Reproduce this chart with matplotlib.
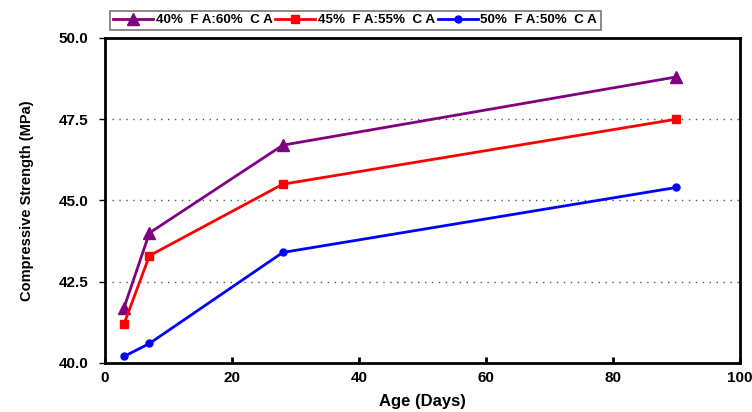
import matplotlib.pyplot as plt
from matplotlib.ticker import MultipleLocator

days = [3, 7, 28, 90]
fa40 = [41.7, 44.0, 46.7, 48.8]
fa45 = [41.2, 43.3, 45.5, 47.5]
fa50 = [40.2, 40.6, 43.4, 45.4]
labels = ['40%  F A:60%  C A', '45%  F A:55%  C A', '50%  F A:50%  C A']

plt.rcParams['font.family'] = ['Liberation Sans', 'DejaVu Sans']

fig = plt.figure(figsize=(7.52, 4.12), dpi=100)
ax = fig.add_axes([0.1396, 0.119, 0.8444, 0.789])

ax.plot(days, fa40, color='#800080', marker='^', ms=8, lw=2, label=labels[0])
ax.plot(days, fa45, color='#ff0000', marker='s', ms=6, lw=2, label=labels[1])
ax.plot(days, fa50, color='#0000ff', marker='o', ms=5, lw=2, label=labels[2])

ax.set_xlim(0, 100)
ax.set_ylim(40, 50)
ax.xaxis.set_major_locator(MultipleLocator(20))
ax.yaxis.set_major_locator(MultipleLocator(2.5))
ax.yaxis.set_major_formatter(plt.FormatStrFormatter('%.1f'))
ax.yaxis.grid(True, linestyle=(0, (1, 4)), color='#555555', lw=1)

for s in ax.spines.values():
    s.set_linewidth(2)
ax.tick_params(axis='x', direction='in', length=4, width=2, labelsize=11, pad=6)
ax.tick_params(axis='y', direction='out', length=4, width=1, labelsize=11, pad=8)
for t in ax.get_xticklabels() + ax.get_yticklabels():
    t.set_fontweight('bold')

ax.set_xlabel('Age (Days)', fontsize=12, fontweight='bold', labelpad=6)
ax.set_ylabel('Compressive Strength (MPa)', fontsize=10.5, fontweight='bold',
              labelpad=18)

leg = ax.legend(loc='lower left', bbox_to_anchor=(0.008, 1.025), ncol=3,
                frameon=True, fancybox=False, handlelength=3.0, handletextpad=0.2,
                columnspacing=0.2, borderpad=0.25, borderaxespad=0,
                prop={'weight': 'bold', 'size': 9.6})
leg.get_frame().set_edgecolor('#555555')
leg.get_frame().set_linewidth(1.2)

fig.savefig('out.png', dpi=100)
